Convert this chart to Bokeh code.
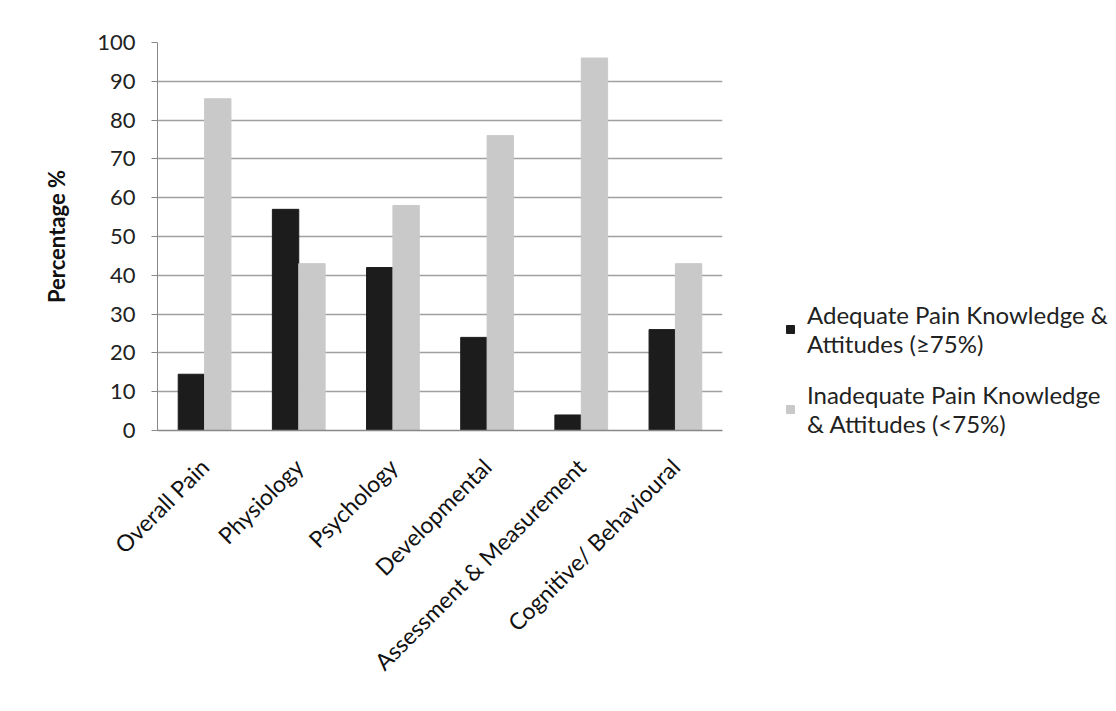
from bokeh.plotting import figure
from bokeh.models import ColumnDataSource, Legend, LegendItem, FactorRange, FixedTicker
from bokeh.transform import dodge
from bokeh.embed import file_html
from bokeh.resources import INLINE

categories = ["Overall Pain", "Physiology", "Psychology", "Developmental",
              "Assessment & Measurement", "Cognitive/ Behavioural"]
adequate = [14.5, 57, 42, 24, 4, 26]
inadequate = [85.5, 43, 58, 76, 96, 43]
y_ticks = [0, 10, 20, 30, 40, 50, 60, 70, 80, 90, 100]
series_labels = ["Adequate Pain Knowledge &\nAttitudes (\u226575%)",
                 "Inadequate Pain Knowledge\n& Attitudes (<75%)"]

FONT = "Lato"

src = ColumnDataSource(dict(cat=categories, adequate=adequate, inadequate=inadequate))

p = figure(frame_width=565, frame_height=388, x_range=FactorRange(*categories), y_range=(0, 100),
           output_backend="svg", toolbar_location=None,
           min_border_left=157, min_border_right=0, min_border_top=42, min_border_bottom=265)

r1 = p.vbar(x=dodge("cat", -0.14, range=p.x_range), top="adequate", width=0.28, source=src,
            fill_color="#1c1c1c", line_color="#1c1c1c")
r2 = p.vbar(x=dodge("cat", 0.14, range=p.x_range), top="inadequate", width=0.28, source=src,
            fill_color="#c9c9c9", line_color="#c9c9c9")

p.outline_line_color = None
p.background_fill_color = "white"
p.xgrid.grid_line_color = None
p.ygrid.grid_line_color = "#a0a0a0"
p.ygrid.grid_line_width = 1.5

p.yaxis.ticker = FixedTicker(ticks=y_ticks)
p.yaxis.minor_tick_line_color = None
p.yaxis.major_tick_out = 6
p.yaxis.major_tick_in = 0
p.yaxis.axis_line_color = "#888888"
p.yaxis.major_tick_line_color = "#888888"
p.yaxis.major_label_text_font = FONT
p.yaxis.major_label_text_font_size = "22px"
p.yaxis.major_label_text_color = "#222222"
p.yaxis.major_label_standoff = 16
p.yaxis.axis_label = "Percentage %"
p.yaxis.axis_label_text_font = FONT
p.yaxis.axis_label_text_font_style = "bold"
p.yaxis.axis_label_text_font_size = "22px"
p.yaxis.axis_label_text_color = "#111111"
p.yaxis.axis_label_standoff = 24

p.xaxis.major_tick_line_color = None
p.xaxis.minor_tick_line_color = None
p.xaxis.axis_line_color = "#888888"
p.xaxis.axis_line_width = 1.5
p.xaxis.major_label_orientation = 0.785398
p.xaxis.major_label_text_font = FONT
p.xaxis.major_label_text_font_size = "23px"
p.xaxis.major_label_text_color = "#111111"
p.xaxis.major_label_standoff = 26

legend = Legend(items=[LegendItem(label=series_labels[0], renderers=[r1]),
                       LegendItem(label=series_labels[1], renderers=[r2])],
                location=(63, -8))
legend.label_text_font = FONT
legend.label_text_font_size = "24px"
legend.label_text_line_height = 1.1
legend.label_text_color = "#222222"
legend.glyph_width = 10
legend.glyph_height = 10
legend.label_standoff = 12
legend.spacing = 22
legend.padding = 0
legend.margin = 0
legend.border_line_color = None
legend.background_fill_alpha = 0
p.add_layout(legend, "right")

open("out.html", "w").write(file_html(p, INLINE))
